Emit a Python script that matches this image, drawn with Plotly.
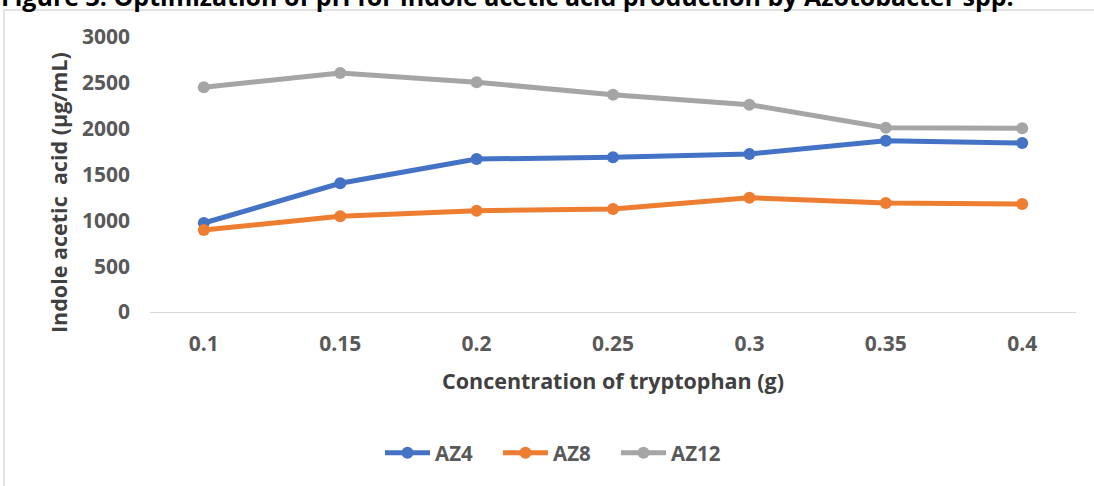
import plotly.graph_objects as go

categories = ["0.1", "0.15", "0.2", "0.25", "0.3", "0.35", "0.4"]
az4 = [971, 1404, 1669, 1687, 1724, 1869, 1844]
az8 = [895, 1044, 1105, 1124, 1247, 1189, 1178]
az12 = [2451, 2607, 2506, 2371, 2262, 2011, 2004]

series = [("AZ4", az4, "#4472C4"), ("AZ8", az8, "#ED7D31"), ("AZ12", az12, "#A5A5A5")]

W, H = 1094, 486
L, R, T, B = 150, 18, 37, 174
pw, ph = W - L - R, H - T - B

def px(x):
    return (x - L) / pw

def py(y):
    return (H - B - y) / ph

fig = go.Figure()
for name, vals, col in series:
    fig.add_trace(go.Scatter(
        x=categories, y=vals, name=name, mode="lines+markers",
        line=dict(color=col, width=5),
        marker=dict(color=col, size=12),
    ))

font_fam = "Open Sans, Liberation Sans, Arial, sans-serif"
tick_font = dict(family=font_fam, size=21, color="#595959", weight="bold")
title_font = dict(family=font_fam, size=21.5, color="#404040", weight="bold")

fig.update_layout(
    width=W, height=H,
    margin=dict(l=L, r=R, t=T, b=B),
    paper_bgcolor="white", plot_bgcolor="white",
    showlegend=True,
    legend=dict(orientation="h", x=px(380), xanchor="left", y=py(453), yanchor="middle",
                font=dict(family=font_fam, size=20.5, color="#595959", weight="bold"),
                entrywidth=58, entrywidthmode="pixels", itemwidth=45, traceorder="normal"),
    xaxis=dict(type="category", showgrid=False, showline=True, linecolor="#D9D9D9", linewidth=1,
               ticks="", tickfont=tick_font, zeroline=False, ticklabelstandoff=13,
               title=dict(text="Concentration of tryptophan (g)", standoff=17, font=title_font)),
    yaxis=dict(range=[0, 3000], dtick=500, showgrid=False, showline=False, zeroline=False,
               ticks="", tickfont=tick_font, ticklabelstandoff=19),
    shapes=[dict(type="rect", xref="paper", yref="paper",
                 x0=px(4), x1=px(1200), y0=py(10), y1=py(600),
                 line=dict(color="#D9D9D9", width=1.5), fillcolor="rgba(0,0,0,0)", layer="below")],
    annotations=[
        dict(text="Figure 3: Optimization of pH for indole acetic acid production by Azotobacter spp.",
             xref="paper", yref="paper", x=px(-1), xanchor="left", y=py(15), yanchor="bottom",
             showarrow=False,
             font=dict(family=font_fam, size=25, color="#000000", weight="bold")),
        dict(text="Indole acetic  acid (µg/mL)", textangle=-90,
             xref="paper", yref="paper", x=px(58), xanchor="center", y=py(193), yanchor="middle",
             showarrow=False, font=title_font),
    ],
)

fig.write_html("out.html")
